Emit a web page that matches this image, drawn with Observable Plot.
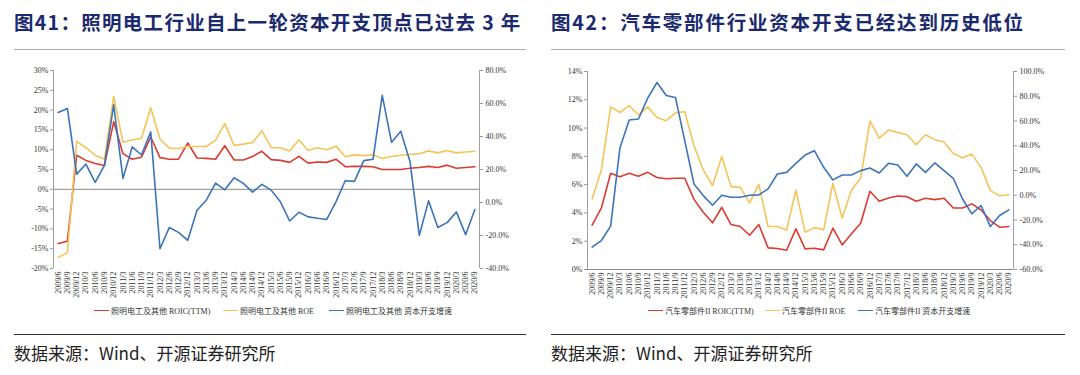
<!DOCTYPE html>
<html><head><meta charset="utf-8">
<script src="https://cdn.jsdelivr.net/npm/d3@7"></script>
<script src="https://cdn.jsdelivr.net/npm/@observablehq/plot@0.6"></script>
<style>
body{margin:0;background:#fff;}
#page{position:relative;width:1080px;height:375px;overflow:hidden;background:#fff;font-family:"Liberation Serif","Noto Sans CJK SC",serif;}
.title{position:absolute;top:7px;font-family:"Noto Sans CJK SC",sans-serif;font-weight:700;font-size:19.5px;color:#1b2a6e;letter-spacing:1.3px;white-space:nowrap;}
.hr{position:absolute;height:0;border-top:1.5px solid #aaa;}
.cap{position:absolute;top:340px;font-family:"Noto Sans CJK SC",sans-serif;font-size:17px;color:#222;white-space:nowrap;}
.chart{position:absolute;top:60px;}
.leg{position:absolute;top:305px;font-size:8px;color:#333;white-space:nowrap;display:flex;align-items:center;}
.leg span.sw{display:inline-block;width:15px;height:0;border-top:1.6px solid;margin-right:2px;}
</style></head>
<body><div id="page">
<div class="title" style="left:14px">图41：照明电工行业自上一轮资本开支顶点已过去 3 年</div>
<div class="title" style="left:551px;letter-spacing:1.8px">图42：汽车零部件行业资本开支已经达到历史低位</div>
<div class="hr" style="left:14px;width:512px;top:49px"></div>
<div class="hr" style="left:551px;width:514px;top:49px"></div>
<div id="c1" class="chart" style="left:0px"></div>
<div id="c2" class="chart" style="left:540px"></div>
<div id="l1"></div><div id="l2"></div>
<div class="hr" style="left:14px;width:512px;top:334px;border-top:1.5px solid #333"></div>
<div class="hr" style="left:551px;width:514px;top:334px;border-top:1.5px solid #333"></div>
<div class="cap" style="left:14px">数据来源：Wind、开源证券研究所</div>
<div class="cap" style="left:551px">数据来源：Wind、开源证券研究所</div>
</div>
<script>
const quarters = ["2009/6","2009/9","2009/12","2010/3","2010/6","2010/9","2010/12","2011/3","2011/6","2011/9","2011/12","2012/3","2012/6","2012/9","2012/12","2013/3","2013/6","2013/9","2013/12","2014/3","2014/6","2014/9","2014/12","2015/3","2015/6","2015/9","2015/12","2016/3","2016/6","2016/9","2016/12","2017/3","2017/6","2017/9","2017/12","2018/3","2018/6","2018/9","2018/12","2019/3","2019/6","2019/9","2019/12","2020/3","2020/6","2020/9"];

// Chart 41: 照明电工及其他
const lightRoic = [-13.7,-13.1,8.6,7.3,6.5,6.0,17.1,9.0,7.6,8.1,13.2,8.0,7.6,7.6,11.7,7.9,7.8,7.6,11.0,7.4,7.4,8.3,9.6,7.5,7.3,6.8,8.3,6.6,6.9,6.8,7.6,5.7,5.8,5.8,5.7,5.0,5.0,5.0,5.3,5.5,5.8,5.5,6.1,5.3,5.5,5.7];
const lightRoe = [-17.2,-16.0,12.1,10.5,8.6,7.6,23.4,11.9,12.5,12.9,20.6,12.7,10.4,10.3,10.8,10.8,10.8,12.4,16.6,11.1,11.4,11.8,14.8,10.5,10.5,9.7,12.5,9.8,10.5,10.0,10.9,8.2,8.7,8.5,8.7,7.8,8.3,8.6,8.8,9.0,9.7,9.2,9.8,9.2,9.4,9.6];
const lightCapex = [54.6,57.0,17.2,23.3,12.2,22.5,59.2,14.6,33.7,28.8,42.8,-28.0,-15.2,-18.1,-22.9,-4.7,1.4,11.8,7.7,15.0,11.6,6.3,11.0,7.5,0.4,-11.2,-5.9,-8.7,-9.5,-10.3,0.4,13.2,12.8,25.4,26.2,64.9,36.5,43.2,24.7,-19.9,1.0,-15.2,-12.2,-5.7,-19.5,-4.3];
const lightLeftTicks = [-20,-15,-10,-5,0,5,10,15,20,25,30];
const lightRightTicks = [-40,-20,0,20,40,60,80];
const lightNames = ["照明电工及其他 ROIC(TTM)","照明电工及其他 ROE","照明电工及其他 资本开支增速"];

// Chart 42: 汽车零部件II
const autoRoic = [3.13,4.35,6.8,6.56,6.8,6.6,6.87,6.5,6.42,6.45,6.45,4.96,4.05,3.3,4.4,3.18,3.04,2.42,3.18,1.53,1.48,1.36,2.87,1.46,1.5,1.39,2.92,1.74,2.52,3.27,5.53,4.82,5.06,5.2,5.15,4.82,5.04,4.94,5.04,4.35,4.35,4.64,4.21,3.46,2.99,3.04];
const autoRoe = [4.99,7.06,11.5,11.1,11.58,10.94,11.5,10.75,10.52,11.08,11.15,8.75,7.04,5.93,7.98,5.86,5.81,4.71,6.02,3.04,3.04,2.8,5.6,2.64,2.96,2.82,6.1,3.65,5.6,6.47,10.5,9.29,9.86,9.69,9.53,8.82,9.53,9.18,9.01,8.21,7.88,8.16,7.22,5.58,5.22,5.29];
const autoCapex = [-41.9,-36.6,-25.0,38.2,60.8,61.6,78.5,91.1,80.6,79.0,44.1,9.1,-0.3,-8.1,0.0,-1.6,-1.6,0.0,0.3,5.1,17.2,18.5,25.8,32.5,36.0,22.6,12.4,16.4,16.4,19.9,22.0,18.0,25.8,24.5,15.3,25.3,18.5,26.1,19.9,13.7,-3.0,-15.1,-8.3,-25.3,-16.4,-11.8];
const autoLeftTicks = [0,2,4,6,8,10,12,14];
const autoRightTicks = [-60,-40,-20,0,20,40,60,80,100];
const autoNames = ["汽车零部件II ROIC(TTM)","汽车零部件II ROE","汽车零部件II 资本开支增速"];

const colors = ["#db3b30","#f5c458","#3c74b9"];

function dualChart(opts){
  const {left, right, series, capex, mLeft, mRight, mTop, mBottom} = opts;
  const [l0,l1] = [left[0], left[left.length-1]];
  const [r0,r1] = [right[0], right[right.length-1]];
  const toL = v => l0 + (v - r0) * (l1 - l0) / (r1 - r0);
  const fromL = y => r0 + (y - l0) * (r1 - r0) / (l1 - l0);
  const n = quarters.length;
  return Plot.plot({
    width: 540, height: 250,
    marginLeft: mLeft, marginRight: mRight, marginTop: mTop, marginBottom: mBottom,
    style: {fontFamily: "Liberation Serif, serif", fontSize: "8px", color: "#333", background: "transparent"},
    x: {domain: [-0.5, n - 0.5]},
    y: {domain: [l0, l1]},
    marks: [
      Plot.ruleY([0], {stroke: "#8a8a8a", strokeWidth: 1}),
      Plot.ruleX([-0.5, n - 0.5], {stroke: "#a0a0a0", strokeWidth: 1}),
      Plot.axisY({anchor: "left", ticks: left, tickFormat: d => d + "%", tickSize: 3, tickPadding: 2, label: null, stroke: "#999"}),
      Plot.axisY({anchor: "right", ticks: right.map(toL), tickFormat: d => Math.round(fromL(d)).toFixed(1) + "%", tickSize: 3, tickPadding: 3, label: null, stroke: "#999"}),
      Plot.axisX({anchor: "bottom", ticks: d3.range(n), tickFormat: i => quarters[i], tickRotate: -90, tickSize: 0, tickPadding: 3, label: null}),
      Plot.lineY(series[0], {stroke: colors[0], strokeWidth: 1.6}),
      Plot.lineY(series[1], {stroke: colors[1], strokeWidth: 1.6}),
      Plot.lineY(capex, {y: v => toL(v), stroke: colors[2], strokeWidth: 1.6})
    ]
  });
}

document.getElementById("c1").appendChild(dualChart({
  left: lightLeftTicks, right: lightRightTicks, series: [lightRoic, lightRoe], capex: lightCapex,
  mLeft: 53, mRight: 61, mTop: 10, mBottom: 42
}));
document.getElementById("c2").appendChild(dualChart({
  left: autoLeftTicks, right: autoRightTicks, series: [autoRoic, autoRoe], capex: autoCapex,
  mLeft: 47, mRight: 67, mTop: 11, mBottom: 41
}));

function legend(container, names, xs){
  const el = document.getElementById(container);
  names.forEach((name, k) => {
    const d = document.createElement("div");
    d.className = "leg";
    d.style.left = xs[k] + "px";
    d.innerHTML = `<span class="sw" style="border-color:${colors[k]}"></span><span>${name}</span>`;
    el.appendChild(d);
  });
}
legend("l1", lightNames, [94, 223, 329]);
legend("l2", autoNames, [648, 765, 858]);
</script>
</body></html>
